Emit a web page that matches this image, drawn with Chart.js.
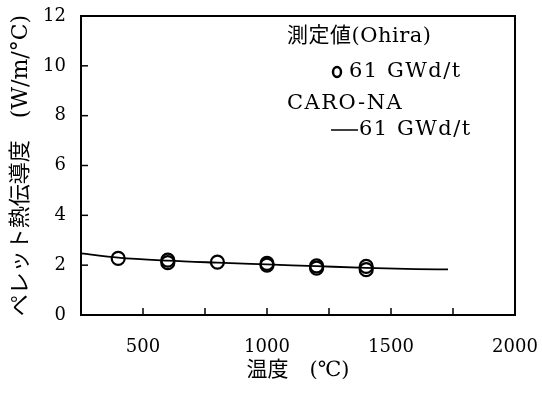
<!DOCTYPE html>
<html>
<head>
<meta charset="utf-8">
<script src="https://cdn.jsdelivr.net/npm/chart.js@4.4.1/dist/chart.umd.min.js"></script>
<style>
  html, body { margin: 0; padding: 0; background: #fff; }
  #wrap { width: 542px; height: 396px; }
</style>
</head>
<body>
<div id="wrap"><canvas id="myChart"></canvas></div>
<script>
'use strict';

// measured values (Ohira), 61 GWd/t
const measTemps = [400, 600, 600, 800, 1000, 1000, 1200, 1200, 1400, 1400];
const measK = [2.27, 2.2, 2.1, 2.12, 2.07, 2.0, 1.97, 1.88, 1.95, 1.82];

// CARO-NA calculation, 61 GWd/t
const caroTemps = [250, 400, 600, 800, 1000, 1200, 1400, 1600, 1730];
const caroK = [2.47, 2.3, 2.18, 2.1, 2.03, 1.96, 1.89, 1.84, 1.83];

const xTickLabels = [500, 1000, 1500, 2000];
const yTickLabels = [0, 2, 4, 6, 8, 10, 12];

const legendLines = ['測定値(Ohira)', '61 GWd/t', 'CARO-NA', '61 GWd/t'];
const xTitle = '温度　(℃)';
const yTitle = 'ペレット熱伝導度　(W/m/°C)';

const serif = "'DejaVu Serif', 'Noto Sans CJK JP', serif";

function toPoints(xs, ys){
	let pts = [];
	for(var i = 0; i < xs.length; i++){
		pts.push({x: xs[i], y: ys[i]});
	}
	return pts;
}

// frame + inward tick marks
const framePlugin = {
	id: 'frame',
	afterDraw(chart){
		const ctx = chart.ctx;
		const a = chart.chartArea;
		const xs = chart.scales.x;
		const ys = chart.scales.y;
		ctx.save();
		ctx.strokeStyle = '#000';
		ctx.lineWidth = 1.5;
		xs.ticks.forEach(function(t){
			let px = xs.getPixelForValue(t.value);
			if(px > a.left + 2 && px < a.right - 2){
				ctx.beginPath();
				ctx.moveTo(px, a.bottom);
				ctx.lineTo(px, a.bottom - 7);
				ctx.stroke();
			}
		});
		ys.ticks.forEach(function(t){
			let py = ys.getPixelForValue(t.value);
			if(py > a.top + 2 && py < a.bottom - 2){
				ctx.beginPath();
				ctx.moveTo(a.left, py);
				ctx.lineTo(a.left + 7, py);
				ctx.stroke();
			}
		});
		ctx.lineWidth = 2;
		ctx.strokeRect(a.left, a.top, a.right - a.left, a.bottom - a.top);
		ctx.restore();
	}
};

// legend written as text in the upper right of the plot
const legendPlugin = {
	id: 'textLegend',
	afterDraw(chart){
		const ctx = chart.ctx;
		ctx.save();
		ctx.fillStyle = '#000';
		ctx.strokeStyle = '#000';
		ctx.textBaseline = 'middle';
		ctx.textAlign = 'left';
		ctx.font = '21px ' + serif;
		ctx.letterSpacing = '0.5px';
		ctx.fillText(legendLines[0], 287, 37);
		ctx.letterSpacing = '1.5px';
		ctx.beginPath();
		ctx.lineWidth = 2.5;
		ctx.ellipse(337, 72, 4, 5, 0, 0, Math.PI * 2);
		ctx.stroke();
		ctx.fillText(legendLines[1], 349, 72);
		ctx.fillText(legendLines[2], 287, 104);
		ctx.lineWidth = 1.5;
		ctx.beginPath();
		ctx.moveTo(331, 130);
		ctx.lineTo(358, 130);
		ctx.stroke();
		ctx.fillText(legendLines[3], 359, 130);
		ctx.restore();
	}
};

const data = {
	datasets: [{
		label: 'CARO-NA 61 GWd/t',
		data: toPoints(caroTemps, caroK),
		showLine: true,
		borderColor: '#000',
		borderWidth: 1.8,
		pointRadius: 0,
		tension: 0.4,
		cubicInterpolationMode: 'monotone',
		fill: false
	}, {
		label: '測定値(Ohira) 61 GWd/t',
		data: toPoints(measTemps, measK),
		showLine: false,
		pointStyle: 'circle',
		pointRadius: 6.5,
		pointBorderWidth: 2.2,
		borderColor: '#000',
		backgroundColor: 'rgba(0,0,0,0)'
	}]
};

const config = {
	type: 'scatter',
	data: data,
	options: {
		responsive: true,
		maintainAspectRatio: false,
		animation: false,
		layout: { padding: { top: 16, right: 27, left: 0, bottom: 0 } },
		plugins: {
			legend: { display: false },
			tooltip: { enabled: false }
		},
		scales: {
			x: {
				type: 'linear',
				min: 250,
				max: 2000,
				grid: { display: false, drawTicks: false },
				border: { display: false },
				afterFit: function(scale){
					scale.height = 81;
					scale.paddingLeft = 0;
					scale.paddingRight = 0;
				},
				ticks: {
					stepSize: 250,
					autoSkip: false,
					maxRotation: 0,
					padding: 22,
					color: '#000',
					font: { family: serif, size: 18 },
					callback: function(v){ return xTickLabels.indexOf(v) >= 0 ? String(v) : ''; }
				},
				title: {
					display: true,
					text: xTitle,
					color: '#000',
					font: { family: serif, size: 21 },
					padding: { top: 0, bottom: 13 }
				}
			},
			y: {
				type: 'linear',
				min: 0,
				max: 12,
				grid: { display: false, drawTicks: false },
				border: { display: false },
				afterFit: function(scale){
					scale.width = 81;
					scale.paddingTop = 0;
					scale.paddingBottom = 0;
				},
				ticks: {
					stepSize: 2,
					padding: 15,
					color: '#000',
					font: { family: serif, size: 18 },
					callback: function(v){ return yTickLabels.indexOf(v) >= 0 ? String(v) : ''; }
				},
				title: {
					display: true,
					text: yTitle,
					color: '#000',
					font: { family: serif, size: 22 },
					padding: { top: 8, bottom: 0 }
				}
			}
		}
	},
	plugins: [framePlugin, legendPlugin]
};

const myChart = new Chart(document.getElementById('myChart'), config);
</script>
</body>
</html>
